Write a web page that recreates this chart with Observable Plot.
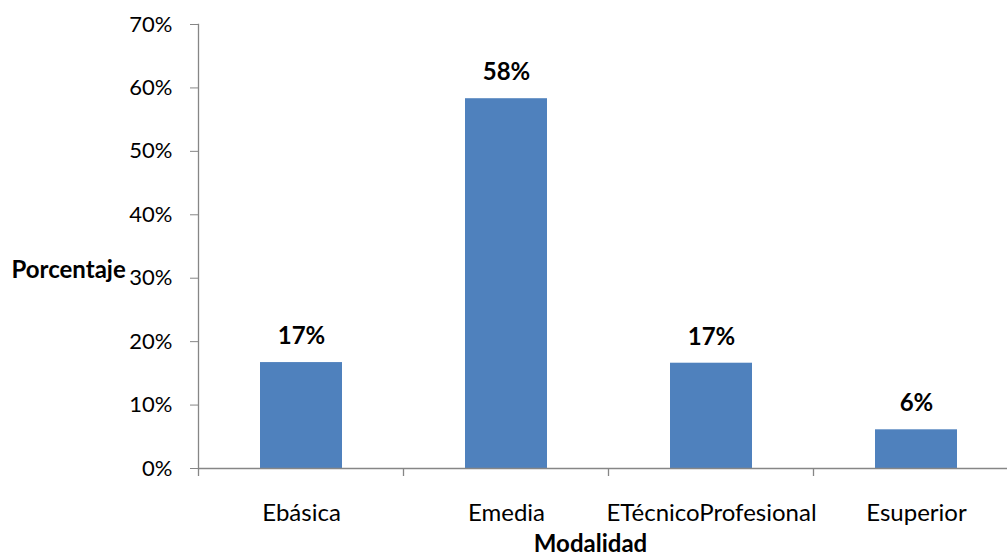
<!DOCTYPE html>
<html>
<head>
<meta charset="utf-8">
<script src="https://cdn.jsdelivr.net/npm/d3@7"></script>
<script src="https://cdn.jsdelivr.net/npm/@observablehq/plot@0.6"></script>
<style>
  html, body { margin: 0; padding: 0; background: #fff; overflow: hidden; }
  #chart svg { display: block; max-width: none !important; }
</style>
</head>
<body>
<div id="chart"></div>
<script>
const categories = ["Ebásica", "Emedia", "ETécnicoProfesional", "Esuperior"];
const values = [16.7, 58.3, 16.6, 6.1];
const yTicks = [0, 10, 20, 30, 40, 50, 60, 70];
const yLabel = "Porcentaje";
const xLabel = "Modalidad";

const data = categories.map((c, i) => ({ cat: c, val: values[i] }));
const axisColor = "#868686";
const font = "Lato, 'Open Sans', sans-serif";

// x-axis ticks at the category boundaries, derived from the x scale
const boundaryTicks = (index, scales) => {
  const g = d3.create("svg:g");
  const x = scales.x, y = scales.y;
  const bw = typeof x.bandwidth === "function" ? x.bandwidth() : (+x.bandwidth || 0);
  const centers = categories.map(c => x(c) + bw / 2);
  const step = centers[1] - centers[0];
  const y0 = y(0);
  centers.forEach(cx => {
    const px = cx - step / 2;
    g.append("line")
      .attr("x1", px).attr("x2", px)
      .attr("y1", y0).attr("y2", y0 + 8)
      .attr("stroke", axisColor).attr("stroke-width", 1.3);
  });
  return g.node();
};

const chart = Plot.plot({
  width: 1018,
  height: 558,
  marginLeft: 198,
  marginRight: 0,
  marginTop: 24,
  marginBottom: 90,
  style: { fontFamily: font, background: "#fff", overflow: "visible" },
  x: { domain: categories, paddingInner: 0.6, paddingOuter: 0.3, align: 0.5, label: null },
  y: { domain: [0, 70], ticks: yTicks, label: null },
  marks: [
    Plot.barY(data, { x: "cat", y: "val", fill: "#4F81BD" }),
    Plot.ruleY([0], { stroke: axisColor, strokeWidth: 1.3 }),
    Plot.frame({ anchor: "left", stroke: axisColor, strokeWidth: 1.3 }),
    Plot.axisY({
      ticks: yTicks,
      tickFormat: d => d + "%",
      tickSize: 8,
      tickPadding: 18,
      stroke: axisColor,
      fill: "#000",
      fontSize: 22,
      label: null
    }),
    Plot.axisX({
      tickSize: 0,
      tickPadding: 35,
      fill: "#000",
      fontSize: 24,
      label: null
    }),
    boundaryTicks,
    Plot.text(data, {
      x: "cat", y: "val",
      text: d => Math.round(d.val) + "%",
      dy: -26,
      fontSize: 24,
      fontWeight: "bold",
      fill: "#000"
    }),
    Plot.text([xLabel], {
      frameAnchor: "bottom",
      text: d => d,
      dx: -18,
      dy: 83,
      fontSize: 24,
      fontWeight: "bold",
      fill: "#000"
    }),
    Plot.text([yLabel], {
      y: [30],
      frameAnchor: "left",
      text: d => d,
      textAnchor: "start",
      dx: -187,
      dy: -8,
      fontSize: 24,
      fontWeight: "bold",
      fill: "#000"
    })
  ]
});

document.getElementById("chart").appendChild(chart);
</script>
</body>
</html>
